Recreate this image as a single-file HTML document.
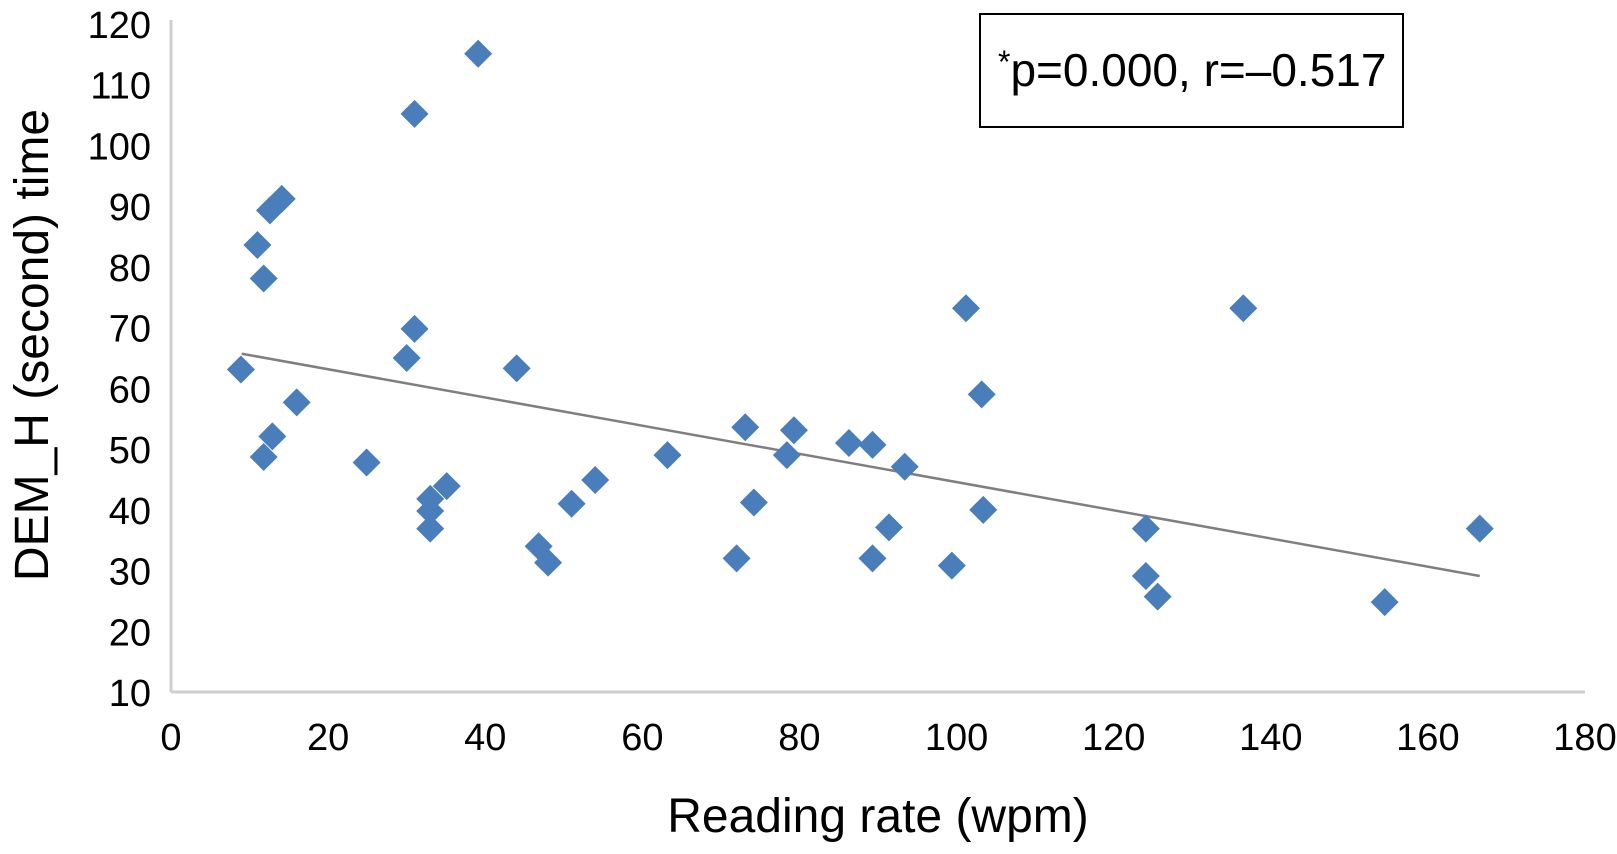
<!DOCTYPE html>
<html><head><meta charset="utf-8"><style>
html,body{margin:0;padding:0;background:#fff;}
svg{display:block;font-family:"Liberation Sans",Arial,sans-serif;}
</style></head><body>
<svg id="chart" width="1617" height="854" viewBox="0 0 1617 854">
<g id="axes"></g>
<g id="marks"></g>
<rect x="980" y="14" width="423" height="113" fill="#fff" stroke="#000" stroke-width="2"/>
<text x="998" y="86" font-size="46" fill="#000"><tspan font-size="32" dy="-13">*</tspan><tspan dy="13">p=0.000, r=–0.517</tspan></text>
<text x="878" y="832" font-size="48" text-anchor="middle" fill="#000">Reading rate (wpm)</text>
<text transform="translate(48,345) rotate(-90)" font-size="48" text-anchor="middle" fill="#000">DEM_H (second) time</text>
</svg>
<script>
const xTicks=[0,20,40,60,80,100,120,140,160,180];
const yTicks=[10,20,30,40,50,60,70,80,90,100,110,120];
const xVals=[8.9,11.0,11.8,12.6,14.1,11.8,12.9,16.0,24.9,30.0,31.0,31.0,39.1,33.0,33.0,33.0,35.1,44.0,46.8,48.0,51.0,54.0,63.2,72.0,73.1,74.2,78.4,79.3,86.3,89.3,89.3,91.4,93.4,99.4,101.2,103.2,103.4,124.1,124.1,125.6,136.5,154.5,166.6];
const yVals=[63.1,83.6,78.1,89.3,91.2,48.7,52.1,57.7,47.8,65.0,69.8,105.2,115.1,41.8,39.8,36.9,43.9,63.3,34.0,31.3,41.0,44.9,49.0,32.0,53.6,41.2,49.0,53.1,51.0,50.7,32.0,37.1,47.1,30.8,73.2,59.0,40.0,36.9,29.1,25.7,73.2,24.8,36.9];
const trendX=[9,166.6];
const trendY=[65.7,29.1];
const X0=171,X1=1585,Y0=692,Y1=24;
const sx=v=>X0+(v-0)/(180-0)*(X1-X0);
const sy=v=>Y0-(v-10)/(120-10)*(Y0-Y1);
const NS="http://www.w3.org/2000/svg";
const axes=document.getElementById('axes'),marks=document.getElementById('marks');
function mk(t,a,p){const e=document.createElementNS(NS,t);for(const k in a)e.setAttribute(k,a[k]);p.appendChild(e);return e;}
let l=mk('line',{x1:X0,y1:Y1-4,x2:X0,y2:Y0,stroke:'#cfcfcf','stroke-width':3},axes);


l=mk('line',{x1:X0,y1:Y0,x2:X1,y2:Y0,stroke:'#cfcfcf','stroke-width':3},axes);


xTicks.forEach(v=>{
 const tx=mk('text',{x:sx(v),y:750,'font-size':38,'text-anchor':'middle',fill:'#000'},axes);
 tx.textContent=v;
 
 
});
yTicks.forEach(v=>{
 const tx=mk('text',{x:151,y:sy(v)+14,'font-size':38,'text-anchor':'end',fill:'#000'},axes);
 tx.textContent=v;
 
 
});
const tl=mk('line',{x1:sx(trendX[0]),y1:sy(trendY[0]),x2:sx(trendX[1]),y2:sy(trendY[1]),stroke:'#7f7f7f','stroke-width':2.5},marks);


xVals.forEach((v,i)=>{
 const cx=sx(v),cy=sy(yVals[i]),r=14;
 const p=mk('polygon',{points:`${cx},${cy-r} ${cx+r},${cy} ${cx},${cy+r} ${cx-r},${cy}`,fill:'#4a7ebb'},marks);
 
 
});
</script>
</body></html>
